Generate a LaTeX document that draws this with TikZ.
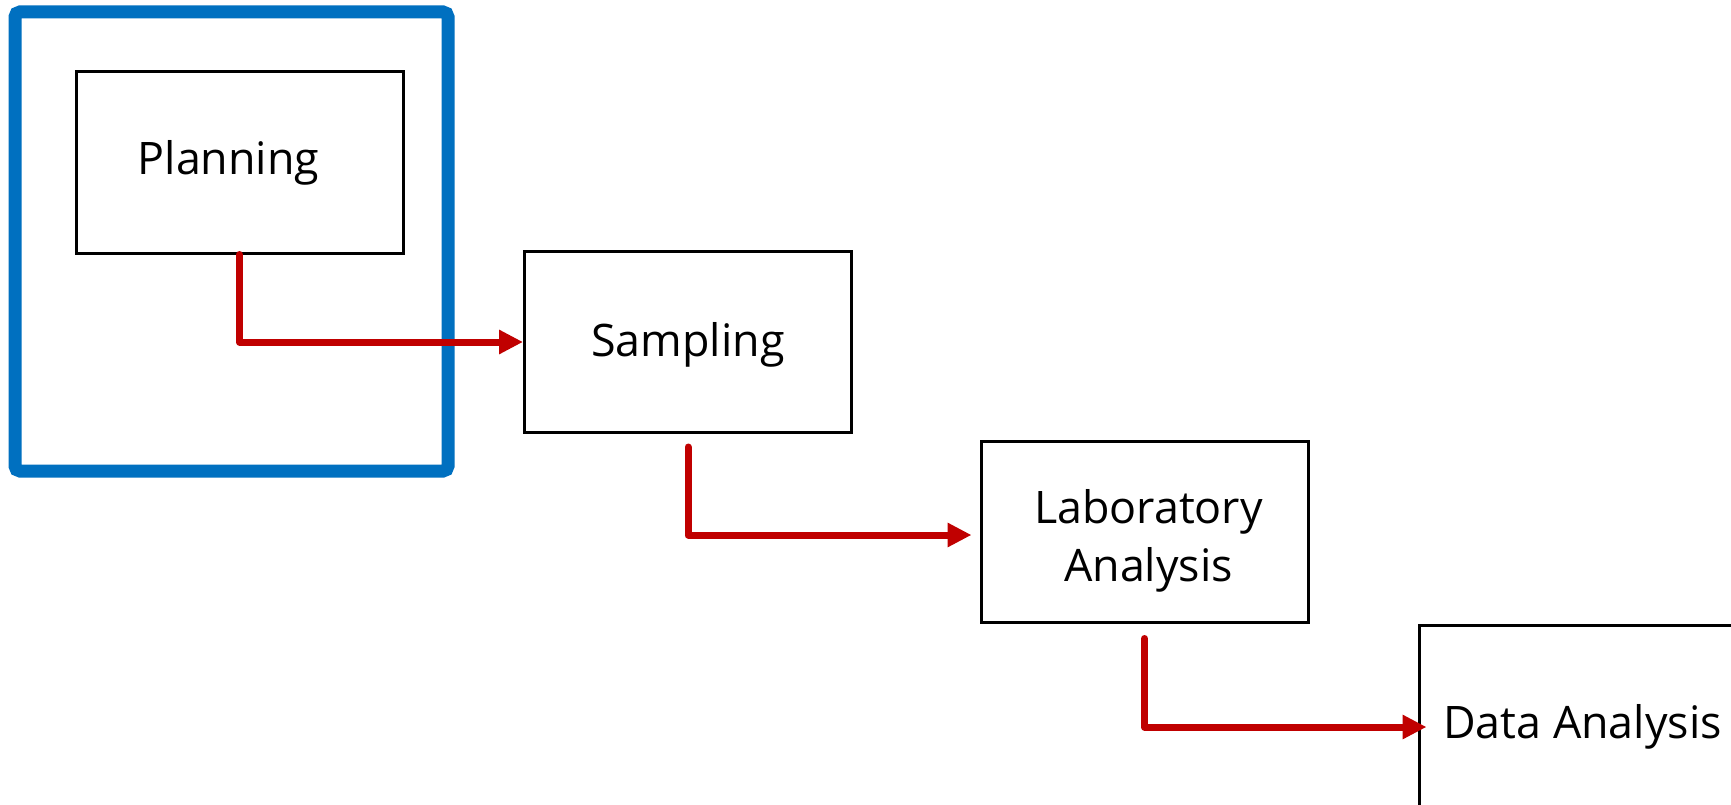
\documentclass[tikz,border=0pt]{standalone}
\usepackage{fontspec}
\setmainfont{Open Sans}
\usetikzlibrary{arrows.meta}
\definecolor{frameblue}{HTML}{0070C0}
\definecolor{arrred}{HTML}{C00000}
\begin{document}
\begin{tikzpicture}[x=1pt,y=-1pt,
  stagebox/.style={draw=black, line width=3pt, minimum width=327pt, minimum height=181pt,
    inner sep=0pt},
  stagetext/.style={align=center, font=\fontsize{44.8pt}{58pt}\selectfont},
  flow/.style={draw=arrred, line width=7pt, line cap=round, line join=round,
    -{Triangle[length=24pt,width=23pt]}}]
\useasboundingbox (0,0) rectangle (1731,805);
\fill[white] (0,0) rectangle (1731,805);
% blue highlight frame
\node[draw=frameblue, line width=13pt, rounded corners=5pt, minimum width=433pt,
  minimum height=459pt, inner sep=0pt] (frame) at (231.5,241.5) {};
% stages
\node[stagebox, label={[stagetext, shift={(-11pt,0pt)}]center:Planning}] (plan) at (239.5,162.5) {};
\node[stagebox, label={[stagetext, shift={(0pt,-3pt)}]center:Sampling}] (samp) at (688,342) {};
\node[stagebox, label={[stagetext, shift={(4pt,-9pt)}]center:Laboratory\\Analysis}] (lab) at (1144.5,531.5) {};
\node[stagebox, label={[stagetext, shift={(0pt,-11pt)}]center:Data Analysis}] (data) at (1582.5,715.5) {};
% connectors
\draw[flow] (plan.south) |- (samp.west);
\draw[flow] ([yshift=-13pt]samp.south) |- ([xshift=-8pt,yshift=-3.5pt]lab.west);
\draw[flow] ([yshift=-15pt]lab.south) |- ([xshift=9pt,yshift=-11.5pt]data.west);
\end{tikzpicture}
\end{document}
